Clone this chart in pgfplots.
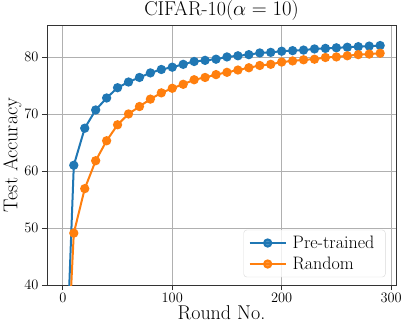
\documentclass[border=0pt]{standalone}
\usepackage{pgfplots}
\pgfplotsset{compat=1.18}
\definecolor{mplblue}{HTML}{1F77B4}
\definecolor{mplorange}{HTML}{FF7F0E}
\definecolor{gridgray}{HTML}{B0B0B0}

\pgfplotstableread{
round pre rand
0   10.0 10.0
10  61.0 49.1
20  67.5 56.9
30  70.7 61.8
40  72.8 65.3
50  74.6 68.1
60  75.6 70.0
70  76.4 71.3
80  77.2 72.6
90  77.8 73.7
100 78.2 74.5
110 78.7 75.2
120 79.2 76.0
130 79.4 76.4
140 79.6 76.9
150 80.0 77.3
160 80.2 77.7
170 80.4 78.1
180 80.7 78.5
190 80.8 78.7
200 81.0 79.1
210 81.1 79.3
220 81.2 79.5
230 81.4 79.6
240 81.5 79.9
250 81.6 80.0
260 81.7 80.2
270 81.8 80.4
280 81.9 80.5
290 82.0 80.65
}\accdata

\begin{document}
\begin{tikzpicture}
\useasboundingbox (0,0) rectangle (407pt,333pt);
\begin{axis}[
    at={(47pt,48pt)}, anchor=south west,
    scale only axis,
    width=349pt, height=260pt,
    xmin=-14.5, xmax=304.5,
    ymin=40, ymax=85.6,
    xtick={0,100,200,300},
    ytick={40,50,60,70,80},
    xtick pos=left, ytick pos=left,
    tick align=outside,
    major tick length=5pt,
    every tick/.style={black!80, line width=0.8pt},
    axis line style={black!80, line width=0.8pt},
    grid=major,
    major grid style={gridgray, line width=0.8pt},
    tick label style={font=\fontsize{15}{18}\selectfont},
    label style={font=\fontsize{20}{23}\selectfont},
    title style={font=\fontsize{20}{23}\selectfont, yshift=-5pt},
    title={CIFAR-10($\alpha=10$)},
    xlabel={Round No.},
    ylabel={Test Accuracy},
    xlabel style={yshift=4pt},
    ylabel style={yshift=-4pt},
    legend style={font=\fontsize{18}{22}\selectfont, draw=black!15, rounded corners=3pt,
        fill=white, fill opacity=0.8, text opacity=1, at={(0.97,0.03)}, anchor=south east,
        inner xsep=5pt, inner ysep=4pt, row sep=3pt,
        nodes={inner xsep=6pt}},
    legend cell align=left,
    legend image code/.code={
        \draw[#1, mark repeat=2, mark phase=2] plot coordinates {(0pt,0pt) (18pt,0pt) (36pt,0pt)};
    },
    clip=true,
]
\addplot[mplblue, line width=2pt, mark=*, mark size=3.6pt, mark options={solid}] table[x=round, y=pre] {\accdata};
\addlegendentry{Pre-trained}
\addplot[mplorange, line width=2pt, mark=*, mark size=3.6pt, mark options={solid}] table[x=round, y=rand] {\accdata};
\addlegendentry{Random}
\end{axis}
\end{tikzpicture}
\end{document}
